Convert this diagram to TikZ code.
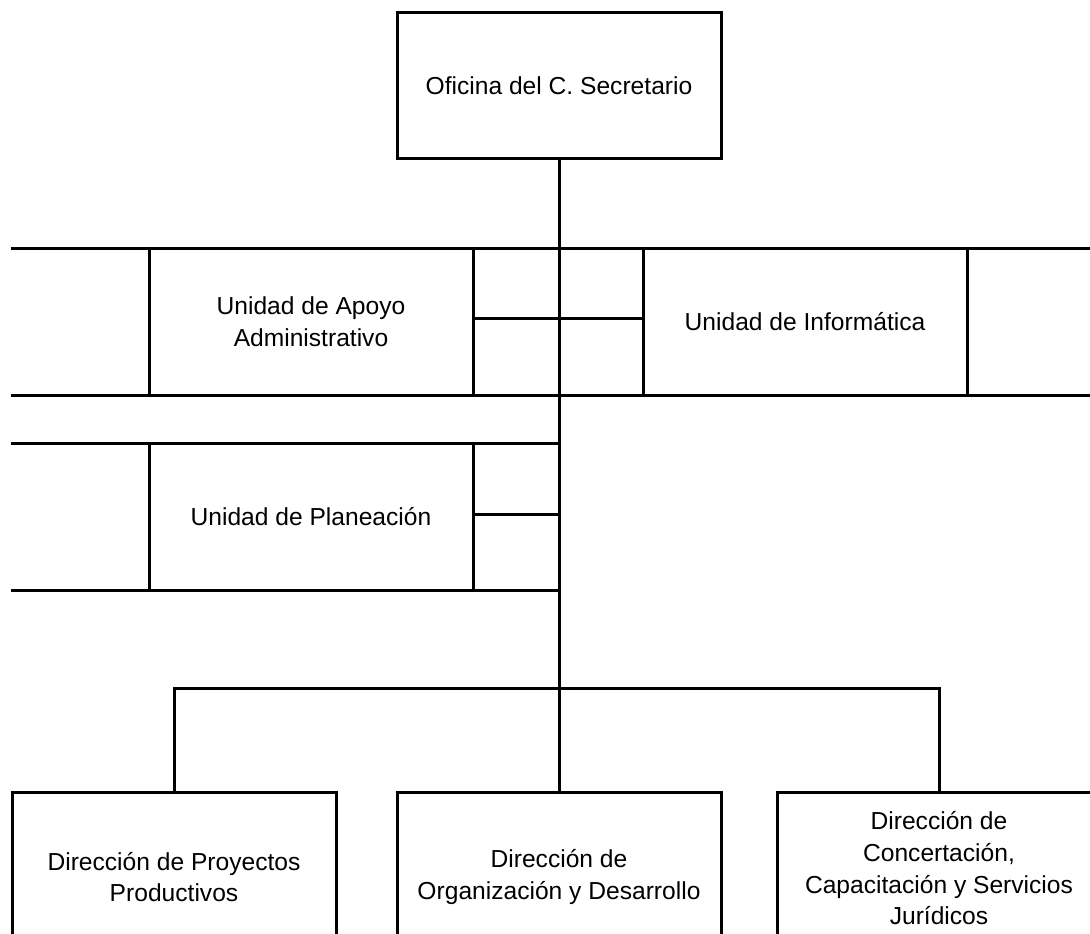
\documentclass[tikz,border=0pt]{standalone}
\usepackage{fontspec}
\setmainfont{Liberation Sans}
\usetikzlibrary{positioning}
\tikzset{
  unit/.style={draw, line width=3pt, minimum width=324pt, minimum height=147pt,
    align=center, inner sep=0pt, outer sep=0pt,
    font=\fontsize{24.6}{31.7}\selectfont},
  link/.style={draw, line width=3pt},
}
\begin{document}
\begin{tikzpicture}[x=1pt,y=-1pt]
    \useasboundingbox (0,0) rectangle (1090,934);
    \clip (0,0) rectangle (1090,934);

    \node (sec) [unit, minimum height=145pt] at (559,85.5) {Oficina del C. Secretario};
    \node (apoyo) [unit, below = 90pt, at=(sec.south), xshift=-248pt] {Unidad de Apoyo\\Administrativo};
    \node (info) [unit, right = 170pt, at=(apoyo.east)] {Unidad de Inform\'atica};
    \node (plan) [unit, below = 48pt, at=(apoyo.south)] {Unidad de Planeaci\'on};
    \node (dirdes) [unit, minimum height=170pt, below = 634pt, at=(sec.south)] {Direcci\'on de\\Organizaci\'on y Desarrollo};
    \node (dirpro) [unit, minimum height=170pt, left = 61pt, at=(dirdes.west)] {Direcci\'on de Proyectos\\Productivos};
    \node (dircon) [unit, minimum height=170pt, right = 56pt, at=(dirdes.east)] {Direcci\'on de\\Concertaci\'on,\\Capacitaci\'on y Servicios\\Jur\'idicos\\[-14pt]};

    % open rows
    \coordinate (rowa) at (11,248);
    \coordinate (rowb) at (11,395);
    \coordinate (rowc) at (11,443);
    \coordinate (rowd) at (11,590);
    \coordinate (rowa end) at (1090,248);
    \coordinate (rowb end) at (1090,395);
    \coordinate (bus) at (559,688);

    \path[link]
    (sec) -- (dirdes)
    (rowa) -- (rowa end)
    (rowb) -- (rowb end)
    ([yshift=3.5pt]apoyo.east) -- ([yshift=3.5pt]info.west)
    (rowc) -- (plan.north -| sec.south)
    (rowd) -- (plan.south -| sec.south)
    ([yshift=2.5pt]plan.east) -- ([yshift=2.5pt]plan.east -| sec.south)
    (dirpro.north) |- (bus) -| (dircon.north)
    ;
  \end{tikzpicture}
\end{document}
